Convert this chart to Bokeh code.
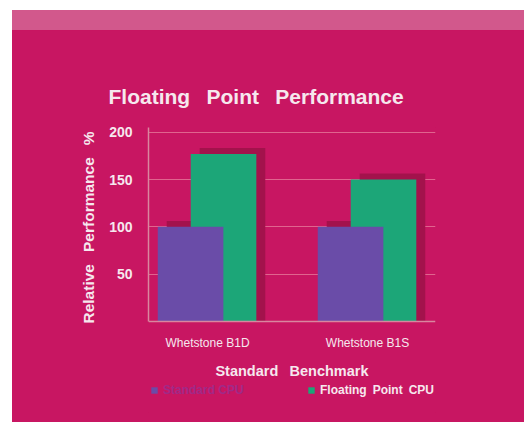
import numpy as np
from bokeh.plotting import figure
from bokeh.models import (ColumnDataSource, FixedTicker, Legend, LegendItem, Range1d, Div, Title, Spacer)
from bokeh.layouts import column, row
from bokeh.embed import file_html
from bokeh.resources import INLINE

# ---- data ----
categories = ["Whetstone B1D", "Whetstone B1S"]
standard_cpu = [100, 100]
floating_cpu = [177, 150]
y_ticks = [50, 100, 150, 200]
series_names = ["Standard CPU", "Floating Point CPU"]

# ---- style ----
BG = "#c81662"
BAND = "#d2588c"
SHADOW = "#a3124c"
PURPLE = "#6a4ca8"
GREEN = "#1ca678"
TEXT = "#f6e8ee"
GRID = "#e0648e"
FONT = "Liberation Sans"

xs = np.arange(1, len(categories) + 1, dtype=float)
BAR_W = 0.41
OFF_P = -0.106
OFF_G = 0.10
SH_DX = 0.056
SH_DY = 6.3

src = ColumnDataSource(dict(
    xp=xs + OFF_P, xg=xs + OFF_G,
    xps=xs + OFF_P + SH_DX, xgs=xs + OFF_G + SH_DX,
    sp=standard_cpu, fp=floating_cpu,
    sps=[v + SH_DY for v in standard_cpu], fps=[v + SH_DY for v in floating_cpu],
))

p = figure(width=512, height=392, output_backend="svg", toolbar_location=None,
           x_range=Range1d(0.631, 2.425), y_range=Range1d(-96.2, 205),
           min_border_left=136, min_border_right=89, min_border_top=97, min_border_bottom=10,
           title="Floating\u2002 Point\u2002 Performance", margin=0,
           styles={"background-color": BG})
p.background_fill_color = BG
p.border_fill_color = BG
p.outline_line_color = None

p.title.text_color = TEXT
p.title.text_font = FONT
p.title.text_font_size = "21px"
p.title.text_font_style = "bold"
p.title.align = "left"
p.title.offset = -40
p.title.standoff = 39

# shadows
p.vbar(x="xgs", top="fps", width=BAR_W, bottom=0, source=src, fill_color=SHADOW, line_color=None)
p.vbar(x="xps", top="sps", width=BAR_W, bottom=0, source=src, fill_color=SHADOW, line_color=None)
# bars
rg = p.vbar(x="xg", top="fp", width=BAR_W, source=src, fill_color=GREEN, line_color=None)
rp = p.vbar(x="xp", top="sp", width=BAR_W, source=src, fill_color=PURPLE, line_color=None)

# axes
p.xaxis.fixed_location = 0
p.xaxis.ticker = FixedTicker(ticks=list(xs))
p.xaxis.major_label_overrides = {float(x): c for x, c in zip(xs, categories)}
p.yaxis.ticker = FixedTicker(ticks=y_ticks)
p.yaxis.bounds = (0, 205)
for ax in (p.xaxis[0], p.yaxis[0]):
    ax.axis_line_color = "#d9869f"
    ax.axis_line_width = 1.5
    ax.major_tick_line_color = None
    ax.minor_tick_line_color = None
    ax.major_label_text_color = TEXT
    ax.major_label_text_font = FONT
    ax.axis_label_text_color = TEXT
    ax.axis_label_text_font = FONT
    ax.axis_label_text_font_style = "bold"
    ax.axis_label_text_font_size = "14.5px"

p.xaxis.major_label_text_font_size = "12px"
p.xaxis.major_label_standoff = 9
p.xaxis.axis_label = "Standard\u2002 Benchmark"
p.xaxis.axis_label_standoff = 9

p.yaxis.major_label_text_font_size = "14px"
p.yaxis.major_label_text_font_style = "bold"
p.yaxis.major_label_standoff = 10

ylab = Title(text="Relative\u2002 Performance\u2002 %", align="left", offset=89,
             text_color=TEXT, text_font=FONT, text_font_style="bold",
             text_font_size="15.5px", standoff=19)
p.add_layout(ylab, "left")

p.xgrid.grid_line_color = None
p.ygrid.grid_line_color = GRID
p.ygrid.grid_line_width = 1
p.ygrid.ticker = FixedTicker(ticks=y_ticks)

def make_legend(item, loc, color):
    return Legend(items=[item], location=loc, orientation="horizontal",
                  background_fill_alpha=0, border_line_color=None,
                  label_text_color=color, label_text_font=FONT,
                  label_text_font_size="12px", label_text_font_style="bold",
                  glyph_width=8, glyph_height=8, padding=0, margin=0,
                  label_standoff=5, spacing=0)

p.add_layout(make_legend(LegendItem(label=series_names[0], renderers=[rp]), (2, 15), "#a02a88"))
p.add_layout(make_legend(LegendItem(label="Floating\u2002Point\u2002CPU", renderers=[rg]), (159, 15), TEXT))

band = Div(width=512, height=20, styles={"background-color": BAND}, margin=0)
layout = column(
    Spacer(width=524, height=10, margin=0),
    row(Spacer(width=12, height=20, margin=0), band, spacing=0, margin=0),
    row(Spacer(width=12, height=392, margin=0), p, spacing=0, margin=0),
    spacing=0, margin=0)

open("out.html", "w").write(file_html(layout, INLINE))
